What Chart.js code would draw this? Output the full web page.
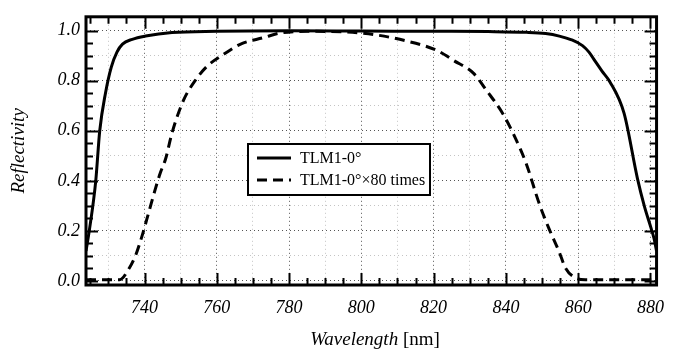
<!DOCTYPE html>
<html>
<head>
<meta charset="utf-8">
<script src="https://cdn.jsdelivr.net/npm/chart.js@4/dist/chart.umd.min.js"></script>
<style>
  html, body { margin: 0; padding: 0; background: #fff; }
  canvas { display: block; }
</style>
</head>
<body>
<canvas id="chart" width="676" height="354"></canvas>
<script>
// Solid curve: TLM1-0°
var solidWl = [723.8, 724.7, 726.5, 727.6, 729.2, 730.8, 732.4, 733.9, 736.6, 740.3, 747.6, 760, 780, 800, 820, 835, 845.7, 851, 854.8, 858.2, 861.2, 863, 864.7, 866.6, 868.8, 872.7, 876.4, 878.3, 880.2, 881, 881.7];
var solidR  = [0.12, 0.2, 0.4, 0.6, 0.751, 0.854, 0.915, 0.946, 0.965, 0.978, 0.992, 0.997, 0.999, 0.998, 0.997, 0.996, 0.993, 0.988, 0.978, 0.963, 0.94, 0.914, 0.878, 0.838, 0.795, 0.67, 0.41, 0.3, 0.21, 0.17, 0.12];

// Dashed curve: TLM1-0° x 80 times
var dashWl = [723.8, 733.1, 735.8, 737.6, 739.4, 741.2, 743, 744.4, 745.8, 747.6, 750.8, 754, 757.5, 762, 766.6, 773, 777.5, 785, 795, 802, 812, 821, 825.6, 831, 834.7, 839.2, 842, 845.6, 849.2, 851.9, 854.7, 856.5, 859.2, 862, 881.7];
var dashR  = [0.005, 0.005, 0.052, 0.105, 0.184, 0.276, 0.368, 0.433, 0.486, 0.591, 0.722, 0.80, 0.86, 0.906, 0.946, 0.972, 0.99, 0.997, 0.995, 0.987, 0.96, 0.92, 0.88, 0.83, 0.76, 0.667, 0.59, 0.47, 0.31, 0.21, 0.118, 0.052, 0.013, 0.005, 0.005];

var seriesLabels = ["TLM1-0\u00b0", "TLM1-0\u00b0\u00d780 times"];

// tick labels
var xTickLabels = [740, 760, 780, 800, 820, 840, 860, 880];
var yTickLabels = [0.0, 0.2, 0.4, 0.6, 0.8, 1.0];

var SERIF = '"Liberation Serif", "Times New Roman", serif';

function toPoints(xs, ys) {
    return xs.map(function (x, i) { return { x: x, y: ys[i] }; });
}

function isMajorX(v) { return Math.abs(v % 20) < 1e-6; }
function isMajorY(v) { var t = Math.round(v * 10); return Math.abs(v * 10 - t) < 1e-6 && t % 2 === 0; }

// minor ticks every 5 nm / 0.05
var xMinor = [];
for (var w = 725; w <= 880; w += 5) xMinor.push(w);
var yMinor = [];
for (var r = 0; r <= 20; r++) yMinor.push(Math.round(r * 5) / 100);

var frame = {
    id: "frame",
    afterDatasetsDraw: function (chart) {
        var ctx = chart.ctx, a = chart.chartArea;
        var xs = chart.scales.x, ys = chart.scales.y;
        ctx.save();
        ctx.strokeStyle = "#000";
        // inward tick marks on all four sides
        ctx.lineWidth = 2;
        xMinor.forEach(function (v) {
            var px = Math.round(xs.getPixelForValue(v)) + 0.5;
            var len = isMajorX(v) ? 12 : 7;
            ctx.beginPath();
            ctx.moveTo(px, a.bottom); ctx.lineTo(px, a.bottom - len);
            ctx.moveTo(px, a.top); ctx.lineTo(px, a.top + len);
            ctx.stroke();
        });
        yMinor.forEach(function (v) {
            var py = Math.round(ys.getPixelForValue(v)) + 0.5;
            var len = isMajorY(v) ? 12 : 7;
            ctx.beginPath();
            ctx.moveTo(a.left, py); ctx.lineTo(a.left + len, py);
            ctx.moveTo(a.right, py); ctx.lineTo(a.right - len, py);
            ctx.stroke();
        });
        // border
        ctx.lineWidth = 3;
        ctx.strokeRect(a.left, a.top, a.right - a.left, a.bottom - a.top);

        // legend box
        var bx = 248, by = 144, bw = 182, bh = 51;
        ctx.fillStyle = "#fff";
        ctx.fillRect(bx, by, bw, bh);
        ctx.lineWidth = 2;
        ctx.strokeRect(bx, by, bw, bh);
        ctx.font = "16px " + SERIF;
        ctx.textBaseline = "middle";
        ctx.textAlign = "left";
        chart.data.datasets.forEach(function (ds, i) {
            var ly = by + 14 + i * 22;
            ctx.beginPath();
            ctx.lineWidth = ds.borderWidth;
            ctx.setLineDash(ds.borderDash || []);
            ctx.moveTo(bx + 9, ly); ctx.lineTo(bx + 43, ly);
            ctx.stroke();
            ctx.setLineDash([]);
            ctx.fillStyle = "#000";
            ctx.fillText(ds.label, bx + 52, ly + 1);
        });

        // axis titles
        ctx.fillStyle = "#000";
        ctx.textBaseline = "middle";
        var t1 = "Wavelength", t2 = " [nm]";
        ctx.font = "italic 19px " + SERIF;
        var w1 = ctx.measureText(t1).width;
        ctx.font = "19px " + SERIF;
        var w2 = ctx.measureText(t2).width;
        var sx = 375 - (w1 + w2) / 2;
        ctx.font = "italic 19px " + SERIF;
        ctx.fillText(t1, sx, 340);
        ctx.font = "19px " + SERIF;
        ctx.fillText(t2, sx + w1, 340);

        ctx.translate(19, (a.top + a.bottom) / 2);
        ctx.rotate(-Math.PI / 2);
        ctx.textAlign = "center";
        ctx.font = "italic 19px " + SERIF;
        ctx.fillText("Reflectivity", 0, 0);
        ctx.restore();
    }
};

new Chart(document.getElementById("chart").getContext("2d"), {
    type: "line",
    data: {
        datasets: [
            {
                label: seriesLabels[0],
                data: toPoints(solidWl, solidR),
                borderColor: "#000",
                borderWidth: 3,
                pointRadius: 0,
                cubicInterpolationMode: "monotone",
                fill: false
            },
            {
                label: seriesLabels[1],
                data: toPoints(dashWl, dashR),
                borderColor: "#000",
                borderWidth: 3,
                borderDash: [10, 6],
                pointRadius: 0,
                cubicInterpolationMode: "monotone",
                fill: false
            }
        ]
    },
    options: {
        responsive: false,
        animation: false,
        events: [],
        layout: { padding: { left: 0, right: 8, top: 14, bottom: 0 } },
        plugins: { legend: { display: false }, tooltip: { enabled: false } },
        scales: {
            x: {
                type: "linear",
                min: 723.8,
                max: 881.7,
                afterBuildTicks: function (scale) {
                    var t = [];
                    for (var v = 730; v <= 880; v += 10) t.push({ value: v });
                    scale.ticks = t;
                },
                afterFit: function (scale) { scale.height = 69; },
                border: { display: false, dash: [1, 3] },
                grid: {
                    drawTicks: false,
                    lineWidth: 1,
                    color: function (c) {
                        return isMajorX(c.tick.value) ? "#555" : "#c4c4c4";
                    }
                },
                ticks: {
                    autoSkip: false,
                    maxRotation: 0,
                    padding: 12,
                    color: "#000",
                    font: { family: SERIF, size: 18, style: "italic" },
                    callback: function (v) {
                        return xTickLabels.indexOf(v) >= 0 ? String(v) : "";
                    }
                }
            },
            y: {
                min: -0.016,
                max: 1.055,
                afterBuildTicks: function (scale) {
                    var t = [];
                    for (var i = 0; i <= 10; i++) t.push({ value: i / 10 });
                    scale.ticks = t;
                },
                afterFit: function (scale) { scale.width = 86; },
                border: { display: false, dash: [1, 3] },
                grid: {
                    drawTicks: false,
                    lineWidth: 1,
                    color: function (c) {
                        return isMajorY(c.tick.value) ? "#555" : "#c4c4c4";
                    }
                },
                ticks: {
                    autoSkip: false,
                    padding: 6,
                    color: "#000",
                    font: { family: SERIF, size: 18, style: "italic" },
                    callback: function (v) {
                        for (var i = 0; i < yTickLabels.length; i++) {
                            if (Math.abs(yTickLabels[i] - v) < 1e-6) return yTickLabels[i].toFixed(1);
                        }
                        return "";
                    }
                }
            }
        }
    },
    plugins: [frame]
});
</script>
</body>
</html>
